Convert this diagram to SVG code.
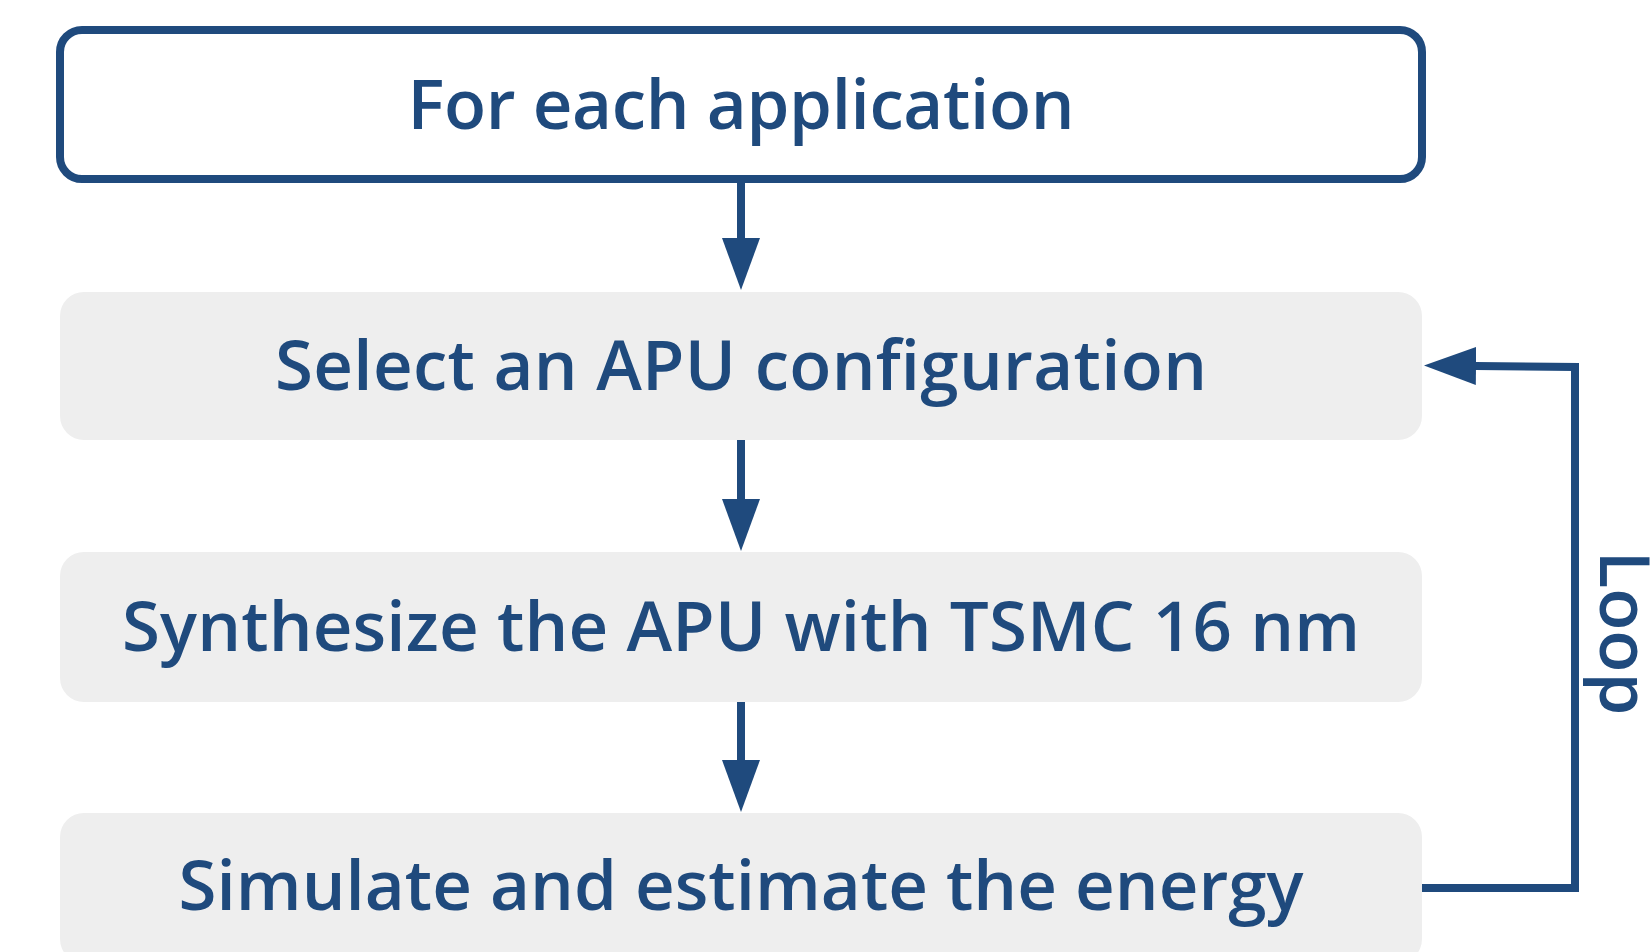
<svg xmlns="http://www.w3.org/2000/svg" width="1652" height="952" viewBox="0 0 1652 952">
<defs>
<style>
.lbl{font-family:"Open Sans","Noto Sans","Liberation Sans",sans-serif;font-weight:600;font-size:69px;fill:#1f4a7d;text-anchor:middle}
.box{fill:#eeeeee;stroke:none}
.edge{fill:none;stroke:#1f4a7d;stroke-width:8}
</style>
<marker id="ah" markerUnits="userSpaceOnUse" viewBox="0 0 52 38" refX="1" refY="19" markerWidth="52" markerHeight="38" orient="auto">
<path d="M0,0 L52,19 L0,38 Z" fill="#1f4a7d"/>
</marker>
</defs>
<rect width="1652" height="952" fill="#ffffff"/>
<g id="n-app">
<rect x="60" y="30" width="1362" height="149" rx="22" fill="#ffffff" stroke="#1f4a7d" stroke-width="8"/>
<text class="lbl" x="741" y="129" textLength="667">For each application</text>
</g>
<g id="n-select">
<rect class="box" x="60" y="292" width="1362" height="148" rx="24"/>
<text class="lbl" x="741" y="390" textLength="932">Select an APU configuration</text>
</g>
<g id="n-synth">
<rect class="box" x="60" y="552" width="1362" height="150" rx="24"/>
<text class="lbl" x="741" y="651" textLength="1238">Synthesize the APU with TSMC 16 nm</text>
</g>
<g id="n-sim">
<rect class="box" x="60" y="813" width="1362" height="150" rx="24"/>
<text class="lbl" x="741" y="910" textLength="1125">Simulate and estimate the energy</text>
</g>
<g id="connectors">
<line class="edge" x1="741" y1="183" x2="741" y2="239" marker-end="url(#ah)"/>
<line class="edge" x1="741" y1="440" x2="741" y2="500" marker-end="url(#ah)"/>
<line class="edge" x1="741" y1="702" x2="741" y2="761" marker-end="url(#ah)"/>
<polyline class="edge" points="1422,888 1575,888 1575,367 1475,366" marker-end="url(#ah)"/>
<text class="lbl" transform="translate(1600,633) rotate(90)" x="0" y="0">Loop</text>
</g>
</svg>
